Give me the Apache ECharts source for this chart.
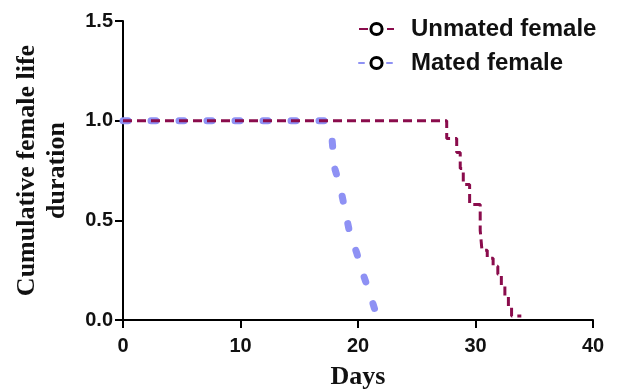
<!DOCTYPE html>
<html>
<head>
<meta charset="utf-8">
<script src="https://cdn.jsdelivr.net/npm/echarts@6/dist/echarts.min.js"></script>
<style>
  html, body { margin: 0; padding: 0; background: #fff; }
  #chart { width: 627px; height: 389px; }
</style>
</head>
<body>
<div id="chart"></div>
<script>
// survival data (days, fraction alive)
const unmatedDays = [0, 27.55, 28.4, 28.7, 28.96, 29.5, 30.4, 30.55, 31.0, 31.5, 31.9, 32.2, 32.5, 32.8, 33.07, 33.9];
const unmatedSurv = [1, 0.91, 0.84, 0.76, 0.68, 0.58, 0.45, 0.35, 0.31, 0.27, 0.23, 0.17, 0.12, 0.07, 0.02, 0.02];
const matedDays = [0, 17.2, 17.8, 18.0, 18.5, 18.9, 19.3, 19.9, 20.4, 21.0, 21.7];
const matedSurv = [1, 1, 0.9, 0.765, 0.665, 0.55, 0.435, 0.335, 0.235, 0.135, 0];
const seriesNames = ['Unmated female', 'Mated female'];
const xTicks = [0, 40, 10];   // min, max, interval
const yTicks = [0, 1.5, 0.5];

const pairs = (xs, ys) => xs.map((x, i) => [x, ys[i]]);

const chart = echarts.init(document.getElementById('chart'));

const tickFont = { fontFamily: 'Liberation Sans, Arial, sans-serif', fontSize: 20, fontWeight: 'bold', color: '#111' };
const nameFont = { fontFamily: 'Liberation Serif, Times New Roman, serif', fontSize: 26, fontWeight: 'bold', color: '#111' };

chart.setOption({
  animation: false,
  // v6 would otherwise shrink the grid to keep the axis name inside
  grid: { left: 123, right: 34, top: 21, bottom: 69, containLabel: false, outerBoundsMode: 'none' },
  legend: {
    data: [seriesNames[0], seriesNames[1]],
    orient: 'vertical',
    left: 353,
    top: 12,
    itemWidth: 35,
    itemHeight: 14,
    itemGap: 10,
    itemStyle: { borderWidth: 3 },
    textStyle: { fontFamily: 'Liberation Sans, Arial, sans-serif', fontSize: 24, fontWeight: 'bold', color: '#111', padding: [0, 0, 0, 12] }
  },
  xAxis: {
    type: 'value',
    min: xTicks[0], max: xTicks[1], interval: xTicks[2],
    name: 'Days',
    nameLocation: 'middle',
    nameGap: 44,
    nameTextStyle: nameFont,
    axisLine: { lineStyle: { color: '#000', width: 2 } },
    axisTick: { show: true, length: 8, lineStyle: { color: '#000', width: 2 } },
    axisLabel: Object.assign({ margin: 16 }, tickFont),
    splitLine: { show: false }
  },
  yAxis: {
    type: 'value',
    min: yTicks[0], max: yTicks[1], interval: yTicks[2],
    name: 'Cumulative female life\nduration',
    nameLocation: 'middle',
    nameRotate: 90,
    nameGap: 51,
    nameTextStyle: Object.assign({ lineHeight: 30 }, nameFont),
    axisLine: { lineStyle: { color: '#000', width: 2 } },
    axisTick: { show: true, length: 8, lineStyle: { color: '#000', width: 2 } },
    axisLabel: Object.assign({ margin: 10, formatter: v => v.toFixed(1) }, tickFont),
    splitLine: { show: false }
  },
  series: [
    {
      name: seriesNames[1],
      type: 'line',
      data: pairs(matedDays, matedSurv),
      symbol: 'circle',
      symbolSize: 10,
      showSymbol: false,
      itemStyle: { color: '#fff', borderColor: '#000', borderWidth: 3 },
      lineStyle: { color: '#8e91f4', width: 7, type: [5, 23], cap: 'round' },
      z: 2
    },
    {
      name: seriesNames[0],
      type: 'line',
      step: 'end',
      data: pairs(unmatedDays, unmatedSurv),
      symbol: 'circle',
      symbolSize: 10,
      showSymbol: false,
      itemStyle: { color: '#fff', borderColor: '#000', borderWidth: 3 },
      lineStyle: { color: '#8a0c4c', width: 3, type: [9, 5] },
      z: 3
    }
  ]
});
</script>
</body>
</html>
